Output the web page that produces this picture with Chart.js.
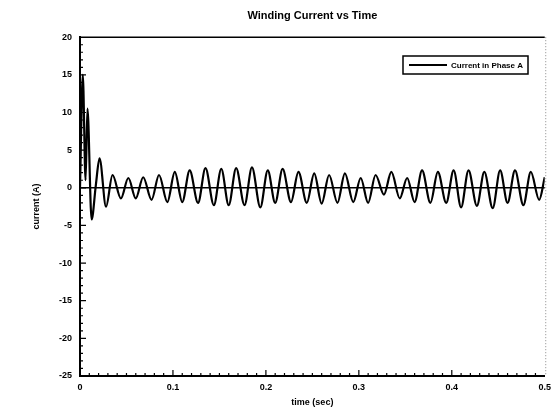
<!DOCTYPE html>
<html lang="en">
<head>
    <meta charset="UTF-8">
    <title>Winding Current vs Time</title>
    <script src="https://cdn.jsdelivr.net/npm/chart.js"></script>
    <style>
        html, body { margin: 0; padding: 0; background: #fff; }
        #wrap { width: 557px; height: 414px; }
    </style>
</head>
<body>
    <div id="wrap"><canvas id="currentChart"></canvas></div>

    <script>
        // values (time in sec, current in A)
        const timeSec = [
            0, 0.003, 0.006, 0.008, 0.0125, 0.017, 0.021, 0.028,
            0.035, 0.044, 0.052, 0.060, 0.068, 0.077, 0.085, 0.094,
            0.102, 0.110, 0.118, 0.127, 0.135, 0.144, 0.152, 0.160,
            0.168, 0.177, 0.185, 0.194, 0.202, 0.210, 0.218, 0.227,
            0.235, 0.244, 0.252, 0.260, 0.268, 0.277, 0.285, 0.294,
            0.302, 0.310, 0.318, 0.327, 0.335, 0.344, 0.352, 0.360,
            0.368, 0.377, 0.385, 0.394, 0.402, 0.410, 0.418, 0.427,
            0.435, 0.444, 0.452, 0.460, 0.468, 0.477, 0.485, 0.494, 0.500
        ];
        const currentA = [
            0, 15, 1, 10.5, -4.2, 0.3, 3.9, -2.5,
            1.7, -1.4, 1.3, -1.4, 1.4, -1.6, 1.7, -1.9,
            2.1, -1.9, 2.3, -2.0, 2.6, -2.3, 2.5, -2.3,
            2.6, -2.3, 2.7, -2.6, 2.3, -2.0, 2.5, -1.9,
            2.1, -2.0, 1.9, -2.1, 1.7, -2.0, 1.9, -1.9,
            1.3, -2.0, 1.7, -0.9, 2.1, -1.4, 1.3, -1.9,
            2.3, -2.0, 2.1, -2.0, 2.3, -2.6, 2.3, -2.4,
            2.1, -2.7, 2.3, -2.0, 2.3, -2.3, 2.1, -1.6, 1.4
        ];
        const xTicks = [0, 0.1, 0.2, 0.3, 0.4, 0.5];
        const yTicks = [20, 15, 10, 5, 0, -5, -10, -15, -20, -25];
        const seriesLabel = "Current in Phase A";

        const tickFont = { family: "'Liberation Sans', Arial, sans-serif", size: 9, weight: "bold" };

        // frame, inward tick marks and the boxed legend
        const framePlugin = {
            id: "frame",
            afterDraw(chart) {
                const ctx = chart.ctx;
                const { left, right, top, bottom } = chart.chartArea;
                const xs = chart.scales.x, ys = chart.scales.y;
                ctx.save();
                ctx.strokeStyle = "#000";
                ctx.lineWidth = 1.6;
                ctx.beginPath();
                ctx.moveTo(left, top); ctx.lineTo(right, top);
                ctx.stroke();

                ctx.setLineDash([1, 2]);
                ctx.strokeStyle = "#888";
                ctx.lineWidth = 1;
                ctx.beginPath();
                ctx.moveTo(right + 1, top); ctx.lineTo(right + 1, bottom);
                ctx.stroke();
                ctx.setLineDash([]);

                ctx.strokeStyle = "#000";
                ctx.lineWidth = 1.2;
                ctx.beginPath();
                for (let i = 1; i < 50; i++) {
                    const px = xs.getPixelForValue(i / 100);
                    const len = i % 10 === 0 ? 6 : 3;
                    ctx.moveTo(px, bottom); ctx.lineTo(px, bottom - len);
                }
                for (let v = -24; v < 20; v++) {
                    const py = ys.getPixelForValue(v);
                    const len = v % 5 === 0 ? 6 : 3;
                    ctx.moveTo(left, py); ctx.lineTo(left + len, py);
                }
                ctx.stroke();

                // legend
                const bx = 403, by = 56, bw = 125, bh = 18;
                ctx.fillStyle = "#fff";
                ctx.fillRect(bx, by, bw, bh);
                ctx.lineWidth = 1.5;
                ctx.strokeRect(bx, by, bw, bh);
                ctx.lineWidth = 2;
                ctx.beginPath();
                ctx.moveTo(bx + 6, by + bh / 2); ctx.lineTo(bx + 44, by + bh / 2);
                ctx.stroke();
                ctx.fillStyle = "#000";
                ctx.font = "bold 8px 'Liberation Sans', Arial, sans-serif";
                ctx.textBaseline = "middle";
                ctx.fillText(chart.data.datasets[0].label, bx + 48, by + bh / 2 + 1);
                ctx.restore();
            }
        };

        const ctx = document.getElementById("currentChart").getContext("2d");
        new Chart(ctx, {
            type: "line",
            data: {
                datasets: [{
                    label: seriesLabel,
                    data: timeSec.map((t, i) => ({ x: t, y: currentA[i] })),
                    borderColor: "#000",
                    borderWidth: 2.2,
                    pointRadius: 0,
                    cubicInterpolationMode: "monotone",
                    fill: false
                }]
            },
            options: {
                responsive: true,
                maintainAspectRatio: false,
                animation: false,
                layout: { padding: { left: 0, right: 9, top: 0, bottom: 0 } },
                plugins: {
                    legend: { display: false },
                    tooltip: { enabled: false },
                    title: {
                        display: true,
                        fullSize: false,
                        text: "Winding Current vs Time",
                        color: "#000",
                        font: { family: "'Liberation Sans', Arial, sans-serif", size: 11, weight: "bold" },
                        padding: { top: 9, bottom: 15 }
                    }
                },
                scales: {
                    x: {
                        type: "linear",
                        min: 0,
                        max: 0.5,
                        afterBuildTicks: (s) => { s.ticks = xTicks.map(v => ({ value: v })); },
                        afterFit: (s) => { s.height = 38; },
                        ticks: {
                            color: "#000",
                            font: tickFont,
                            padding: 6,
                            maxRotation: 0,
                            callback: (v) => String(v)
                        },
                        grid: { color: "transparent", drawTicks: false },
                        border: { color: "#000", width: 2 },
                        title: {
                            display: true,
                            text: "time (sec)",
                            color: "#000",
                            font: tickFont,
                            padding: { top: 0, bottom: 6 }
                        }
                    },
                    y: {
                        min: -25,
                        max: 20,
                        afterBuildTicks: (s) => { s.ticks = yTicks.map(v => ({ value: v })); },
                        afterFit: (s) => { s.width = 80; },
                        ticks: {
                            color: "#000",
                            font: tickFont,
                            padding: 8
                        },
                        grid: {
                            drawTicks: false,
                            color: (c) => (c.tick && c.tick.value === 0 ? "#000" : "transparent"),
                            lineWidth: 1.6
                        },
                        border: { color: "#000", width: 2 },
                        title: {
                            display: true,
                            text: "current (A)",
                            color: "#000",
                            font: tickFont,
                            padding: { top: 31, bottom: 0 }
                        }
                    }
                }
            },
            plugins: [framePlugin]
        });
    </script>
</body>
</html>
